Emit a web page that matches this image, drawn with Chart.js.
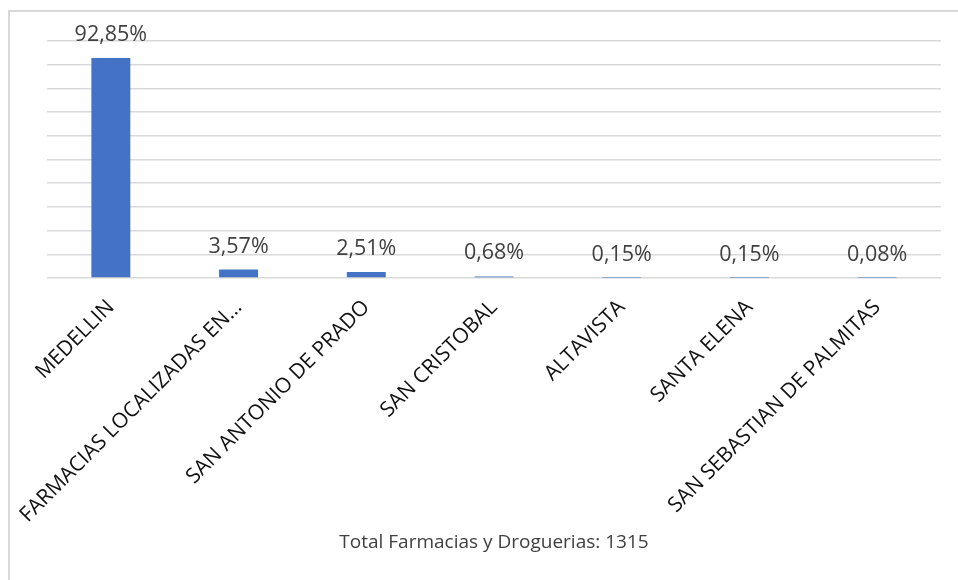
<!DOCTYPE html>
<html>
<head>
<meta charset="utf-8">
<script src="https://cdn.jsdelivr.net/npm/chart.js@4/dist/chart.umd.min.js"></script>
<style>
    html, body { margin: 0; padding: 0; background: #fff; overflow: hidden; }
    #wrap { position: relative; width: 958px; height: 580px; }
    #frame { position: absolute; left: 8px; top: 10px; width: 1000px; height: 1000px; border: 2px solid #d9d9d9; box-sizing: border-box; }
    #farmChart { position: absolute; left: 0; top: 0; }
</style>
</head>
<body>
<div id="wrap">
    <div id="frame"></div>
    <canvas id="farmChart" width="958" height="580"></canvas>
</div>
<script>
const categories = [
    "MEDELLIN",
    "FARMACIAS LOCALIZADAS EN…",
    "SAN ANTONIO DE PRADO",
    "SAN CRISTOBAL",
    "ALTAVISTA",
    "SANTA ELENA",
    "SAN SEBASTIAN DE PALMITAS"
];
const percentages = [92.85, 3.57, 2.51, 0.68, 0.15, 0.15, 0.08];
const axisTitle = "Total Farmacias y Droguerias: 1315";

// writes "92,85%" style labels above each bar
const valueLabels = {
    id: "valueLabels",
    afterDatasetsDraw(chart) {
        const ctx = chart.ctx;
        const meta = chart.getDatasetMeta(0);
        ctx.save();
        ctx.font = "21.5px 'Open Sans'";
        ctx.fillStyle = "#404040";
        ctx.textAlign = "center";
        ctx.textBaseline = "alphabetic";
        meta.data.forEach(function (bar, i) {
            let txt = percentages[i].toFixed(2).replace(".", ",") + "%";
            ctx.fillText(txt, bar.x, bar.y - 17);
        });
        ctx.restore();
    }
};

new Chart(document.getElementById("farmChart"), {
    type: "bar",
    data: {
        labels: categories,
        datasets: [{
            data: percentages,
            backgroundColor: "#4472C4",
            barPercentage: 0.305,
            categoryPercentage: 1
        }]
    },
    options: {
        responsive: false,
        animation: false,
        layout: { padding: { top: 41, left: 47, right: 17, bottom: 0 } },
        plugins: { legend: { display: false }, tooltip: { enabled: false } },
        scales: {
            x: {
                grid: { display: false },
                border: { display: false },
                ticks: {
                    minRotation: 45,
                    maxRotation: 45,
                    autoSkip: false,
                    padding: 9,
                    color: "#111111",
                    font: { family: "'Open Sans'", size: 21 }
                },
                title: {
                    display: true,
                    text: axisTitle,
                    color: "#404040",
                    font: { family: "'Open Sans'", size: 19 },
                    padding: { top: 0, bottom: 26 }
                },
                afterFit: function (scale) { scale.height = 302; }
            },
            y: {
                min: 0,
                max: 100,
                ticks: { display: false, stepSize: 10 },
                border: { display: false },
                grid: { color: "#d9d9d9", lineWidth: 1.5, drawTicks: false }
            }
        }
    },
    plugins: [valueLabels]
});
</script>
</body>
</html>
